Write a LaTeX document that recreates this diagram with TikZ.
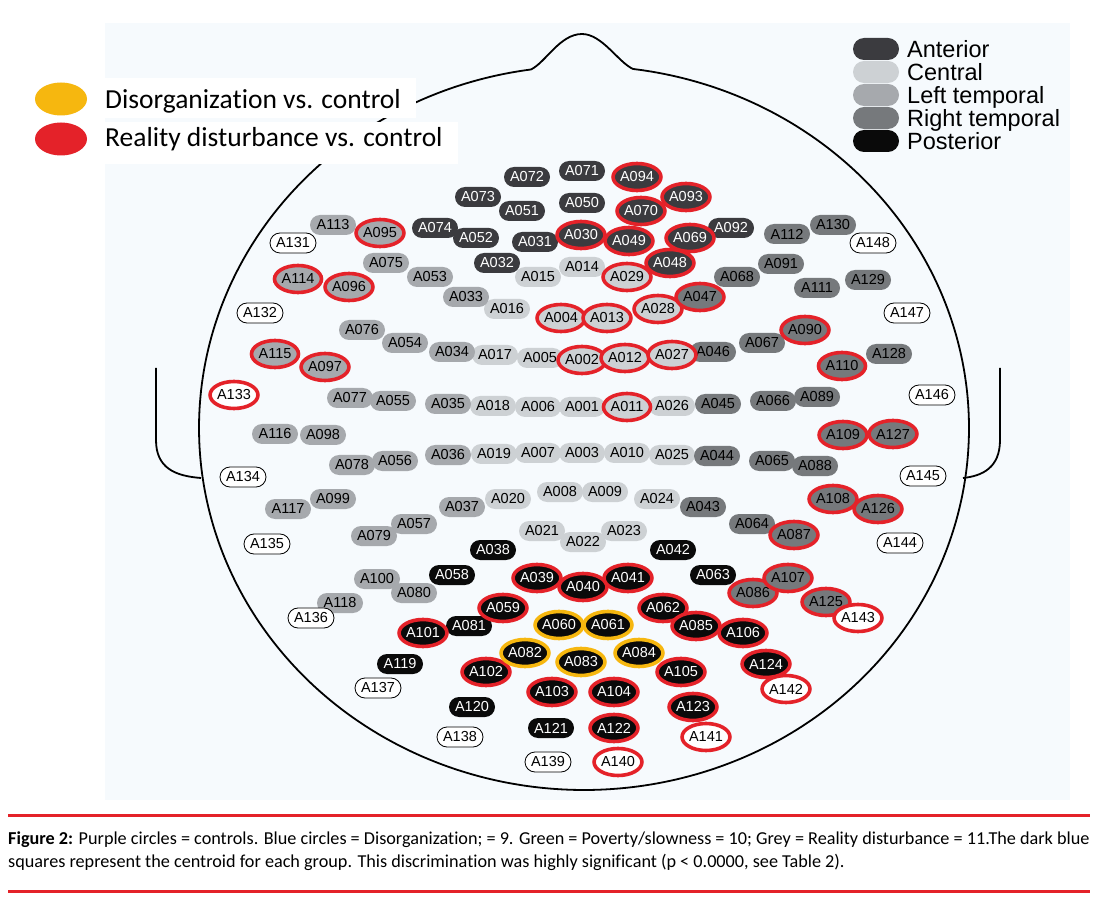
\documentclass[tikz,border=0pt]{standalone}
\usepackage{fontspec}
\setmainfont{Liberation Sans}
\newfontfamily\capfont[Ligatures=NoCommon]{Carlito}
\usetikzlibrary{shapes.geometric}
\definecolor{cAnt}{HTML}{3B3B3F}
\definecolor{cCen}{HTML}{CDD1D4}
\definecolor{cLT}{HTML}{A6A9AD}
\definecolor{cRT}{HTML}{76797C}
\definecolor{cPos}{HTML}{0A0A0A}
\definecolor{cRed}{HTML}{E42229}
\definecolor{cYel}{HTML}{F6B70F}
\definecolor{cBg}{HTML}{F6FAFD}
\newcommand{\labfont}{\fontsize{14.5}{16}\selectfont}
\begin{document}
\begin{tikzpicture}[x=1pt,y=-1pt,
  pillbox/.style={rectangle, rounded corners=10pt, minimum width=46pt, minimum height=20pt, inner sep=0pt, font=\labfont},
  ndant/.style={pillbox, fill=cAnt, text=white},
  ndcen/.style={pillbox, fill=cCen, text=black},
  ndlt/.style={pillbox, fill=cLT, text=black},
  ndrt/.style={pillbox, fill=cRT, text=black},
  ndpos/.style={pillbox, fill=cPos, text=white},
  ndwht/.style={pillbox, fill=white, draw=black, line width=0.8pt, text=black},
  redring/.style={ellipse, minimum width=47pt, minimum height=27pt, inner sep=0pt, line width=3.6pt, draw=cRed, font=\labfont},
  yelring/.style={redring, draw=cYel},
  legpill/.style={rectangle, rounded corners=11pt, minimum width=46pt, minimum height=22pt, inner sep=0pt},
  legtxt/.style={anchor=base west, inner sep=0pt, font=\fontsize{23.5}{26}\selectfont},
  headline/.style={line width=1.8pt, black},
  redrule/.style={line width=3pt, cRed}
]
\useasboundingbox (0,0) rectangle (1096,901);
\fill[white] (0,0) rectangle (1096,901);
\fill[cBg] (105,23) rectangle (1070,800);
% head outline
\draw[headline] plot[domain=277.3:622.1, samples=240, smooth] ({584+385*cos(\x)}, {428+362*sin(\x)})
   .. controls (546,62) and (560,34) .. (582,34) .. controls (602,34) and (618,62) .. (633,69);
\draw[headline] (156,368) -- (156,440) .. controls (156,468) and (175,476) .. (201,478);
\draw[headline] (1000,368) -- (1000,440) .. controls (1000,468) and (982,476) .. (963,478);
% left legend
\fill[white] (0,78) rectangle (416,118);
\fill[white] (0,122) rectangle (458,164);
\node[ellipse, fill=cYel, minimum width=52pt, minimum height=33pt, inner sep=0pt] (LY) at (61,99) {};
\node[ellipse, fill=cRed, minimum width=52pt, minimum height=33pt, inner sep=0pt] (LR) at (61,139) {};
\node[anchor=base west, inner sep=0pt, font=\capfont\fontsize{27.5}{30}\selectfont] (LYT) at (105,109) {Disorganization vs. control};
\node[anchor=base west, inner sep=0pt, font=\capfont\fontsize{27.5}{30}\selectfont] (LRT) at (105,147) {Reality disturbance vs. control};
% right legend
\foreach \c/\t/\yy [count=\i] in {cAnt/Anterior/49, cCen/Central/72, cLT/Left temporal/95, cRT/Right temporal/118, cPos/Posterior/141} {
  \node[legpill, fill=\c] (LP\i) at (876,\yy) {};
  \node[legtxt] (LT\i) at (907,\yy+8.5) {\t};
}
% central
\foreach \n/\x/\y in {014/582/267, 015/538/277, 016/507/309, 017/495/355, 005/540/358, 018/493/406, 006/538/407, 001/582/407, 026/672/406, 019/494/454, 007/538/453, 003/582/453, 010/627/453, 025/672/455, 020/508/499, 008/560/492, 009/605/492, 024/657/499, 021/542/531, 022/583/542, 023/624/531}
  \node[ndcen] (A\n) at (\x,\y) {A\n};
% left temporal
\foreach \n/\x/\y in {118/340/603, 117/288/509, 116/275/434, 113/333/225, 100/377/579, 099/333/499, 098/323/435, 080/414/593, 079/374/536, 078/352/465, 077/350/398, 076/362/330, 075/386/263, 057/414/524, 056/395/461, 055/393/401, 054/405/343, 053/430/277, 037/462/507, 036/448/455, 035/448/404, 034/452/352, 033/466/297}
  \node[ndlt] (A\n) at (\x,\y) {A\n};
% right temporal
\foreach \n/\x/\y in {043/703/507, 044/717/456, 045/718/404, 046/713/352, 064/752/524, 065/772/461, 066/773/401, 067/762/343, 068/737/277, 088/815/466, 089/817/397, 091/781/264, 111/817/288, 112/787/234, 128/889/354, 129/868/280, 130/833/225}
  \node[ndrt] (A\n) at (\x,\y) {A\n};
% anterior
\foreach \n/\x/\y in {074/435/228, 052/476/238, 073/478/197, 072/527/177, 071/582/171, 051/522/211, 050/582/203, 031/535/242, 032/497/263, 092/731/228}
  \node[ndant] (A\n) at (\x,\y) {A\n};
% posterior
\foreach \n/\x/\y in {038/493/550, 042/673/550, 058/452/575, 063/713/575, 081/469/626, 119/400/664, 120/472/707, 121/551/728}
  \node[ndpos] (A\n) at (\x,\y) {A\n};
% unassigned
\foreach \n/\x/\y in {131/293/243, 148/873/243, 132/260/313, 147/907/313, 146/932/395, 134/243/477, 145/923/476, 135/267/544, 144/900/543, 136/311/618, 137/378/688, 138/460/737, 139/548/762}
  \node[ndwht] (A\n) at (\x,\y) {A\n};
% red rings: central
\foreach \n/\x/\y in {002/582/360, 004/561/318, 011/627/407, 012/625/358, 013/607/318, 027/672/355, 028/658/309, 029/627/277}
  \node[redring, fill=cCen, text=black] (A\n) at (\x,\y) {A\n};
% red rings: anterior
\foreach \n/\x/\y in {030/581/235, 048/670/263, 049/629/241, 069/690/238, 070/641/211, 093/686/197, 094/637/177}
  \node[redring, fill=cAnt, text=white] (A\n) at (\x,\y) {A\n};
% red rings: left temporal
\foreach \n/\x/\y in {095/380/233, 096/349/287, 097/325/367, 114/298/279, 115/275/354}
  \node[redring, fill=cLT, text=black] (A\n) at (\x,\y) {A\n};
% red rings: right temporal
\foreach \n/\x/\y in {047/700/297, 086/753/593, 087/794/535, 090/805/330, 107/788/578, 108/833/499, 109/843/435, 110/842/366, 125/826/602, 126/878/509, 127/893/434}
  \node[redring, fill=cRT, text=black] (A\n) at (\x,\y) {A\n};
% red rings: posterior
\foreach \n/\x/\y in {039/537/578, 040/583/587, 041/628/578, 059/503/608, 062/663/608, 085/696/626, 101/423/633, 102/486/672, 103/552/692, 104/614/692, 105/681/672, 106/743/633, 122/614/728, 123/693/707, 124/766/664}
  \node[redring, fill=cPos, text=white] (A\n) at (\x,\y) {A\n};
% yellow rings: posterior
\foreach \n/\x/\y in {060/559/625, 061/608/625, 082/525/653, 083/581/662, 084/639/653}
  \node[yelring, fill=cPos, text=white] (A\n) at (\x,\y) {A\n};
% red rings: unassigned
\foreach \n/\x/\y in {133/234/395, 140/618/762, 141/706/737, 142/786/689, 143/858/618}
  \node[redring, fill=white, text=black] (A\n) at (\x,\y) {A\n};
% caption
\draw[redrule] (8,815) -- (1090,815);
\draw[redrule] (8,891) -- (1090,891);
\node[anchor=base west, inner sep=0pt, font=\capfont\fontsize{18.2}{20}\selectfont] (CAP1) at (8,844) {\textbf{Figure 2:} Purple circles = controls. Blue circles = Disorganization; = 9. Green = Poverty/slowness = 10; Grey = Reality disturbance = 11.The dark blue};
\node[anchor=base west, inner sep=0pt, font=\capfont\fontsize{18.2}{20}\selectfont] (CAP2) at (8,867) {squares represent the centroid for each group. This discrimination was highly significant (p < 0.0000, see Table 2).};
\end{tikzpicture}
\end{document}
